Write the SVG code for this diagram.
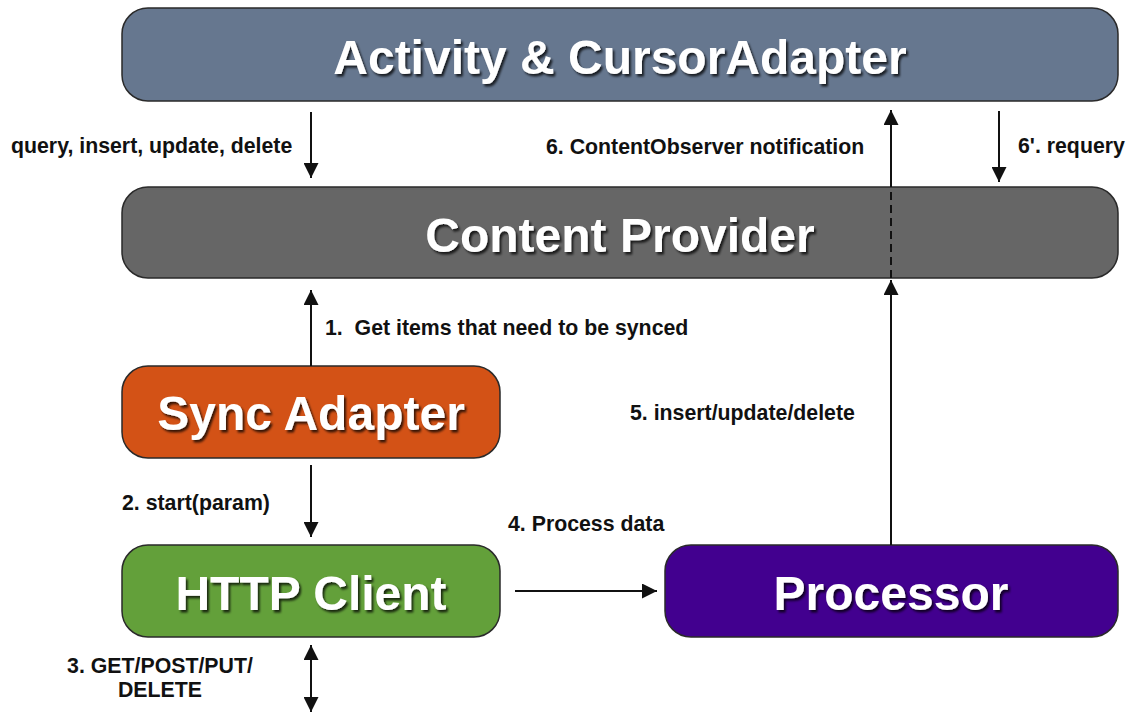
<svg xmlns="http://www.w3.org/2000/svg" width="1127" height="715" viewBox="0 0 1127 715">
<style>
.box{stroke:#2a2a2a;stroke-width:1.5}
.title{font-family:"Liberation Sans",Arial,sans-serif;font-weight:bold;font-size:48px;fill:#fff;text-anchor:middle;filter:url(#ts)}
.lbl{font-family:"Liberation Sans",Arial,sans-serif;font-weight:bold;font-size:21.3px;fill:#111;white-space:pre}
.ln{stroke:#111;stroke-width:2;fill:none}
</style>
<defs>
<filter id="ts" x="-10%" y="-30%" width="120%" height="160%">
<feDropShadow dx="2" dy="2.5" stdDeviation="1.2" flood-color="#000" flood-opacity="0.75"/>
</filter>
<marker id="ah2" viewBox="0 0 10 10" refX="10" refY="5" markerWidth="17" markerHeight="15" markerUnits="userSpaceOnUse" orient="auto-start-reverse">
<path d="M0,0 L10,5 L0,10 Z" fill="#111"/>
</marker>
</defs>
<rect width="1127" height="715" fill="#fff"/>
<g id="activity">
<rect class="box" x="122" y="8" width="996" height="93" rx="26" fill="#66778f"/>
<text class="title" x="620" y="74">Activity &amp; CursorAdapter</text>
</g>
<g id="content-provider">
<rect class="box" x="122" y="187" width="996" height="91" rx="26" fill="#666666"/>
<text class="title" x="620" y="252">Content Provider</text>
</g>
<g id="sync-adapter">
<rect class="box" x="122" y="366" width="378" height="92" rx="26" fill="#d35216"/>
<text class="title" x="311" y="430">Sync Adapter</text>
</g>
<g id="http-client">
<rect class="box" x="122" y="545" width="378" height="92" rx="26" fill="#63a03a"/>
<text class="title" x="311" y="610">HTTP Client</text>
</g>
<g id="processor">
<rect class="box" x="665" y="545" width="453" height="92" rx="26" fill="#42008f"/>
<text class="title" x="891" y="610">Processor</text>
</g>
<g id="connectors">
<line class="ln" x1="311" y1="112" x2="311" y2="178" marker-end="url(#ah2)"/>
<line class="ln" x1="999" y1="111" x2="999" y2="182" marker-end="url(#ah2)"/>
<line class="ln" x1="891" y1="545" x2="891" y2="280" marker-end="url(#ah2)"/>
<line class="ln" x1="891" y1="278" x2="891" y2="187" stroke-dasharray="8,5"/>
<line class="ln" x1="891" y1="187" x2="891" y2="110" marker-end="url(#ah2)"/>
<line class="ln" x1="311" y1="366" x2="311" y2="290" marker-end="url(#ah2)"/>
<line class="ln" x1="311" y1="465" x2="311" y2="537" marker-end="url(#ah2)"/>
<line class="ln" x1="515" y1="591" x2="657" y2="591" marker-end="url(#ah2)"/>
<line class="ln" x1="311" y1="645" x2="311" y2="712" marker-start="url(#ah2)" marker-end="url(#ah2)"/>
</g>
<g id="labels">
<text class="lbl" x="11" y="153">query, insert, update, delete</text>
<text class="lbl" x="546" y="154">6. ContentObserver notification</text>
<text class="lbl" x="1018" y="153">6'. requery</text>
<text class="lbl" x="325" y="335">1.  Get items that need to be synced</text>
<text class="lbl" x="630" y="420">5. insert/update/delete</text>
<text class="lbl" x="122" y="510">2. start(param)</text>
<text class="lbl" x="508" y="531">4. Process data</text>
<text class="lbl" x="160" y="673" text-anchor="middle">3. GET/POST/PUT/</text>
<text class="lbl" x="160" y="697" text-anchor="middle">DELETE</text>
</g>
</svg>
